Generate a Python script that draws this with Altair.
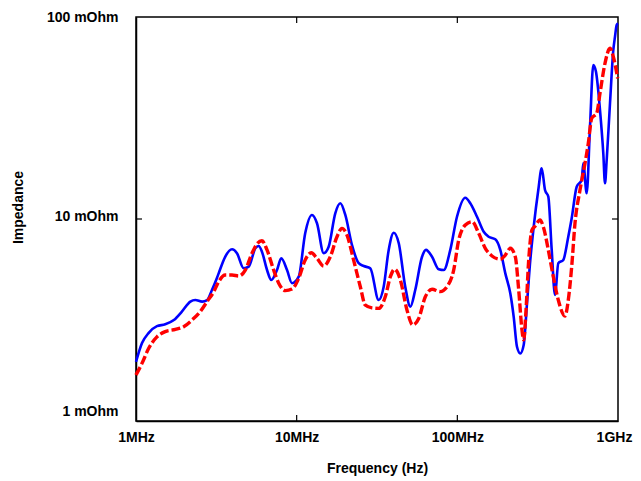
import altair as alt
import pandas as pd

# ---- data (frequency in MHz, impedance in mOhm) ----
blue_freq_mhz = [1.00, 1.09, 1.20, 1.35, 1.52, 1.72, 1.93, 2.18, 2.34, 2.58, 2.77, 2.97, 3.19, 3.27, 3.59,
                 3.96, 4.25, 4.68, 5.03, 5.53, 5.80, 6.08, 6.54, 6.95, 7.54, 8.02, 8.71, 9.35, 10.3, 11.3,
                 12.45, 13.38, 14.73, 15.82, 17.39, 18.69, 20.08, 22.1, 24.33, 26.14, 28.73, 32.4, 34.8,
                 37.4, 40.2, 43.2, 47.4, 51.0, 54.7, 60.3, 63.8, 69.6, 76.6, 82.3, 90.4, 99.5, 112.1,
                 120.4, 132.6, 145.9, 156.7, 172.3, 185.1, 198.9, 213.6, 224.3, 235.1, 246.5, 258.8,
                 271.5, 284.6, 298.8, 319.1, 335.0, 351.3, 368.3, 386.7, 405.4, 425.0, 456.5, 490.4,
                 515.0, 553.3, 594.3, 608.1, 638.6, 669.5, 702.0, 729.4, 772.6, 809.9, 829.9, 850.4,
                 891.7, 935.0, 957.9, 981.3, 1000.0]
blue_imp_mohm = [1.96, 2.43, 2.73, 2.95, 3.01, 3.16, 3.48, 3.90, 3.97, 3.90, 3.97, 4.45, 5.10, 5.38, 6.50,
                 7.08, 6.77, 5.70, 5.81, 7.16, 7.35, 6.89, 5.59, 4.99, 5.59, 6.39, 5.59, 4.81, 5.18, 8.50,
                 10.47, 9.53, 6.77, 7.29, 10.67, 11.96, 10.47, 7.43, 6.04, 5.85, 5.70, 3.97, 4.62,
                 7.03, 8.55, 7.58, 4.62, 3.68, 4.45, 6.50, 7.03, 6.50, 5.64, 5.59, 7.03, 10.26, 12.75,
                 11.96, 10.26, 8.65, 8.17, 7.93, 7.03, 5.38, 4.29, 3.28, 2.33, 2.16, 2.38,
                 3.83, 6.27, 9.16, 13.92, 17.82, 13.92, 12.90, 7.03, 4.21, 6.04, 6.27, 8.17,
                 10.08, 14.45, 15.60, 18.87, 13.41, 28.64, 57.87, 53.6, 34.6, 21.15, 15.02, 19.59,
                 37.4, 68.6, 79.9, 91.3, 93.0]

red_freq_mhz = [1.00, 1.09, 1.20, 1.35, 1.52, 1.76, 1.98, 2.23, 2.51, 2.77, 3.05, 3.27, 3.59, 3.96, 4.36,
                4.79, 5.27, 5.66, 6.08, 6.54, 7.19, 7.73, 8.50, 9.35, 10.3, 11.3, 12.33, 13.38, 14.73,
                16.19, 17.82, 19.14, 20.57, 22.6, 24.9, 26.7, 29.4, 32.4, 35.6, 38.3, 40.7, 44.2, 48.6,
                52.8, 57.5, 63.2, 69.6, 78.3, 86.2, 94.9, 102.0, 112.1, 123.4, 135.8, 149.3, 164.3,
                185.1, 198.9, 213.6, 229.5, 241.0, 252.6, 258.8, 267.6, 278.1, 291.5, 305.6, 326.9,
                342.8, 368.3, 395.7, 425.0, 467.8, 490.4, 515.0, 539.9, 580.0, 623.2, 653.4, 686.1,
                737.0, 772.6, 829.9, 891.7, 935.0, 995.5]
red_imp_mohm = [1.69, 1.93, 2.29, 2.61, 2.77, 2.84, 2.93, 3.16, 3.48, 3.90, 4.37, 4.89, 5.28, 5.28, 5.22,
                5.59, 6.77, 7.52, 7.81, 7.03, 5.59, 4.81, 4.42, 4.50, 5.09, 6.27, 6.81, 6.39, 5.85,
                6.50, 8.17, 8.99, 8.33, 6.27, 4.62, 3.75, 3.63, 3.61, 4.12, 5.18, 5.64, 4.99, 3.54,
                2.99, 3.22, 4.12, 4.49, 4.37, 4.62, 5.59, 7.87, 9.34, 9.70, 8.50, 7.16, 6.56,
                6.32, 6.63, 7.16, 6.50, 4.45, 2.82, 2.52, 3.54, 6.27, 8.82, 9.23, 9.89,
                9.16, 7.03, 5.18, 3.97, 3.31, 3.97, 5.81, 9.53, 13.92, 18.87, 23.7, 31.5,
                33.4, 41.9, 59.0, 70.0, 63.6, 49.7]

x_tick_values = [1, 10, 100, 1000]
x_tick_labels = ["1MHz", "10MHz", "100MHz", "1GHz"]
y_tick_values = [1, 10, 100]
y_tick_labels = ["1 mOhm", "10 mOhm", "100 mOhm"]
x_inner_ticks = [10, 100]
y_inner_ticks = [10]

W, H = 482, 404
FONT = "Liberation Sans, Arial, Helvetica, sans-serif"
TICK = 6


def label_expr(values, labels):
    expr = "''"
    for v, l in reversed(list(zip(values, labels))):
        expr = f"datum.value == {v} ? '{l}' : ({expr})"
    return expr


df_blue = pd.DataFrame({"f": blue_freq_mhz, "z": blue_imp_mohm})
df_red = pd.DataFrame({"f": red_freq_mhz, "z": red_imp_mohm})
df_xt = pd.DataFrame({"f": x_inner_ticks})
df_yt = pd.DataFrame({"z": y_inner_ticks})

xscale = alt.Scale(type="log", domain=[1, 1000], nice=False)
yscale = alt.Scale(type="log", domain=[1, 100], nice=False)

x_axis = alt.Axis(
    values=x_tick_values, labelExpr=label_expr(x_tick_values, x_tick_labels),
    ticks=False, grid=False, domainColor="#000", domainWidth=1.5,
    labelFont=FONT, labelFontSize=14, labelFontWeight="bold", labelColor="#000",
    labelPadding=9, labelFlush=False, labelOverlap=False,
    labelOffset={"condition": {"test": "datum.value == 1000", "value": -4}, "value": 0},
    title="Frequency (Hz)", titleFont=FONT, titleFontSize=14, titleFontWeight="bold",
    titleColor="#000", titlePadding=17,
)
y_axis = alt.Axis(
    values=y_tick_values, labelExpr=label_expr(y_tick_values, y_tick_labels),
    ticks=False, grid=False, domainColor="#000", domainWidth=1.5,
    labelFont=FONT, labelFontSize=14, labelFontWeight="bold", labelColor="#000",
    labelPadding=18, labelFlush=False, labelOverlap=False,
    labelOffset={"condition": [{"test": "datum.value == 1", "value": -10},
                               {"test": "datum.value == 100", "value": 0}], "value": -3},
    title="Impedance", titleFont=FONT, titleFontSize=14, titleFontWeight="bold",
    titleColor="#000", titleX=-111, titleY=190,
)

X = alt.X("f:Q", scale=xscale, axis=x_axis)
Y = alt.Y("z:Q", scale=yscale, axis=y_axis)

blue = alt.Chart(df_blue).mark_line(color="#0000ff", strokeWidth=2.6, interpolate="monotone").encode(
    x=X, y=Y)
red = alt.Chart(df_red).mark_line(color="#ff0000", strokeWidth=3.4, strokeDash=[9, 3],
                                  interpolate="monotone").encode(x=X, y=Y)

tick_style = dict(color="#000", strokeWidth=1.2)
t_bottom = alt.Chart(df_xt).mark_rule(**tick_style).encode(
    x=X, y=alt.value(H - TICK), y2=alt.value(H))
t_top = alt.Chart(df_xt).mark_rule(**tick_style).encode(
    x=X, y=alt.value(0), y2=alt.value(TICK))
t_left = alt.Chart(df_yt).mark_rule(**tick_style).encode(
    y=Y, x=alt.value(0), x2=alt.value(TICK))
t_right = alt.Chart(df_yt).mark_rule(**tick_style).encode(
    y=Y, x=alt.value(W - TICK), x2=alt.value(W))

chart = alt.layer(blue, red, t_bottom, t_top, t_left, t_right).properties(
    width=W, height=H,
    autosize=alt.AutoSizeParams(type="none"),
    padding={"left": 128, "top": 9, "right": 15, "bottom": 56},
    background="white",
).configure_view(stroke="#000", strokeWidth=1.5)

chart.save("out.html", embed_options={"renderer": "svg", "actions": False})
